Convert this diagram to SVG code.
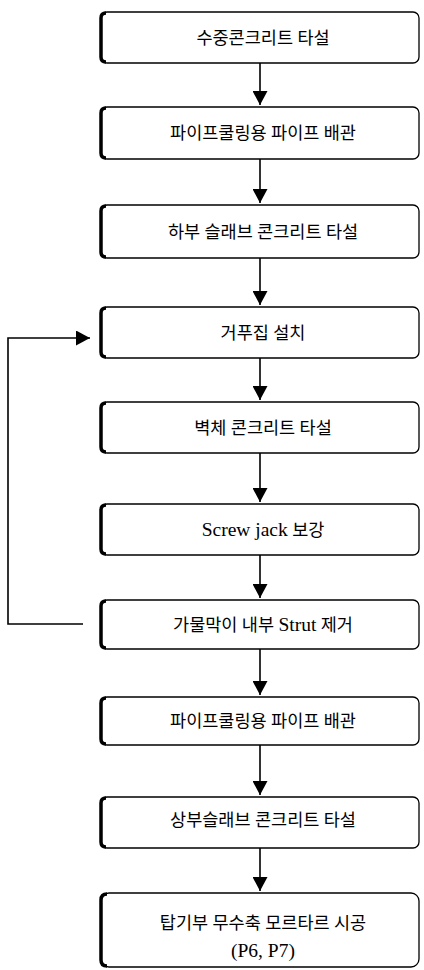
<svg xmlns="http://www.w3.org/2000/svg" width="424" height="970" viewBox="0 0 424 970">
<defs>
<style>
.box{fill:#fff;stroke:#000;stroke-width:1.3}
.thick{fill:none;stroke:#000;stroke-width:3.5}
.t{font-family:"Liberation Serif","Noto Sans CJK KR",serif;font-size:17.5px;text-anchor:middle;fill:#000}
.l{font-size:19.5px}
.c{fill:none;stroke:#000;stroke-width:1.6}
</style>
<marker id="ah" viewBox="0 0 14 15" refX="14" refY="7.5" markerWidth="14" markerHeight="15" markerUnits="userSpaceOnUse" orient="auto">
<path d="M0,0 L14,7.5 L0,15 Z" fill="#000"/>
</marker>
</defs>
<g id="n1"><rect class="box" x="101" y="12" width="318" height="51" rx="6"/><path class="thick" d="M106,13 Q101,13 101,18 L101,57 Q101,62 106,62"/><text class="t" x="263" y="44">수중콘크리트 타설</text></g>
<g id="n2"><rect class="box" x="101" y="107" width="318" height="52" rx="6"/><path class="thick" d="M106,108 Q101,108 101,113 L101,153 Q101,158 106,158"/><text class="t" x="263" y="139">파이프쿨링용 파이프 배관</text></g>
<g id="n3"><rect class="box" x="101" y="205" width="318" height="53" rx="6"/><path class="thick" d="M106,206 Q101,206 101,211 L101,252 Q101,257 106,257"/><text class="t" x="263" y="238">하부 슬래브 콘크리트 타설</text></g>
<g id="n4"><rect class="box" x="101" y="307" width="318" height="51" rx="6"/><path class="thick" d="M106,308 Q101,308 101,313 L101,352 Q101,357 106,357"/><text class="t" x="263" y="339">거푸집 설치</text></g>
<g id="n5"><rect class="box" x="101" y="402" width="318" height="51" rx="6"/><path class="thick" d="M106,403 Q101,403 101,408 L101,447 Q101,452 106,452"/><text class="t" x="263" y="434">벽체 콘크리트 타설</text></g>
<g id="n6"><rect class="box" x="101" y="504" width="318" height="51" rx="6"/><path class="thick" d="M106,505 Q101,505 101,510 L101,549 Q101,554 106,554"/><text class="t" x="263" y="536"><tspan class="l">Screw jack</tspan> 보강</text></g>
<g id="n7"><rect class="box" x="101" y="600" width="318" height="49" rx="6"/><path class="thick" d="M106,601 Q101,601 101,606 L101,643 Q101,648 106,648"/><text class="t" x="263" y="631">가물막이 내부 <tspan class="l">Strut</tspan> 제거</text></g>
<g id="n8"><rect class="box" x="101" y="697" width="318" height="48" rx="6"/><path class="thick" d="M106,698 Q101,698 101,703 L101,739 Q101,744 106,744"/><text class="t" x="263" y="727">파이프쿨링용 파이프 배관</text></g>
<g id="n9"><rect class="box" x="101" y="797" width="318" height="51" rx="6"/><path class="thick" d="M106,798 Q101,798 101,803 L101,842 Q101,847 106,847"/><text class="t" x="263" y="826">상부슬래브 콘크리트 타설</text></g>
<g id="n10"><rect class="box" x="101" y="893" width="318" height="74" rx="8"/><path class="thick" d="M107,894 Q101,894 101,900 L101,960 Q101,966 107,966"/><text class="t" x="263" y="929">탑기부 무수축 모르타르 시공</text><text class="t l" x="263" y="957">(P6, P7)</text></g>
<g id="connectors">
<line class="c" x1="260" y1="63" x2="260" y2="105" marker-end="url(#ah)"/>
<line class="c" x1="260" y1="159" x2="260" y2="203" marker-end="url(#ah)"/>
<line class="c" x1="260" y1="258" x2="260" y2="305" marker-end="url(#ah)"/>
<line class="c" x1="260" y1="358" x2="260" y2="400" marker-end="url(#ah)"/>
<line class="c" x1="260" y1="453" x2="260" y2="502" marker-end="url(#ah)"/>
<line class="c" x1="260" y1="555" x2="260" y2="598" marker-end="url(#ah)"/>
<line class="c" x1="260" y1="649" x2="260" y2="695" marker-end="url(#ah)"/>
<line class="c" x1="260" y1="745" x2="260" y2="795" marker-end="url(#ah)"/>
<line class="c" x1="260" y1="848" x2="260" y2="891" marker-end="url(#ah)"/>
<path class="c" d="M83,624 L8,624 L8,338 L90,338" stroke-width="2" marker-end="url(#ah)"/>
</g>
</svg>
